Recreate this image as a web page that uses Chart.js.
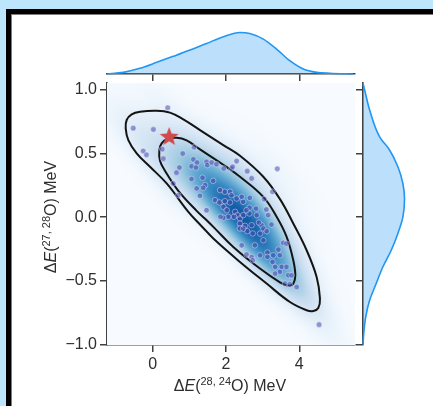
<!DOCTYPE html>
<html>
<head>
<meta charset="utf-8">
<script src="https://cdn.jsdelivr.net/npm/chart.js@4.4.1/dist/chart.umd.min.js"></script>
<style>
  html, body { margin: 0; padding: 0; width: 433px; height: 406px; overflow: hidden; background: #bde5fc; }
  .frame { position: absolute; left: 6px; top: 9px; width: 440px; height: 410px; border: 5px solid #000;
           background: #fff; box-shadow: inset 1px 1px 0 #7d7d7d; }
  canvas { position: absolute; }
  #main { left: 0; top: 0; }
  #topMarg { left: 100px; top: 18px; }
  #rightMarg { left: 356px; top: 76px; }
</style>
</head>
<body>
<div class="frame"></div>
<canvas id="main" width="433" height="406"></canvas>
<canvas id="topMarg" width="262" height="63"></canvas>
<canvas id="rightMarg" width="61" height="276"></canvas>
<script>
// axis limits and ticks
const xRange = [-1.246, 5.52];
const yRange = [-1.005, 1.055];
const xTicks = [0, 2, 4];
const xTickLabels = ['0', '2', '4'];
const yTicks = [-1, -0.5, 0, 0.5, 1];
const yTickLabels = ['\u22121.0', '\u22120.5', '0.0', '0.5', '1.0'];

// posterior samples: ΔE(28,24O) vs ΔE(27,28O)
const sampleX = [0.41, -0.53, 0.02, -0.26, -0.17, 0.26, 0.29, 0.82, 1.13, 1.11, 1.21, 1.06, 1.47, 1.49, 1.61, 1.74,
  0.73, 0.65, 1.06, 1.36, 0.56, 1.94, 2.15, 2.18, 2.29, 2.58, 2.70, 1.65, 1.43, 1.38, 1.20, 1.29, 0.70, 1.47, 1.70,
  1.82, 1.84, 1.97, 2.11, 2.15, 2.29, 2.43, 2.47, 2.65, 2.64, 1.97, 2.11, 1.93, 2.02, 2.25, 2.31, 2.38, 2.22, 2.06,
  1.93, 1.85, 2.47, 2.64, 2.82, 2.84, 2.38, 2.52, 2.58, 2.38, 2.73, 3.04, 3.15, 2.97, 3.02, 2.93, 3.11, 3.24, 2.43,
  2.79, 3.02, 2.93, 3.13, 3.29, 3.43, 3.56, 3.65, 3.47, 3.27, 3.34, 3.52, 3.65, 3.70, 3.79, 3.47, 3.34, 2.56, 2.70,
  2.90, 2.56, 2.70, 2.47, 3.13, 3.61, 3.74, 3.93, 4.54, 2.73, 3.40, 3.27, 3.10, 1.18];
const sampleY = [0.86, 0.70, 0.69, 0.52, 0.49, 0.535, 0.46, 0.50, 0.55, 0.455, 0.43, 0.40, 0.435, 0.41, 0.43, 0.417,
  0.39, 0.35, 0.30, 0.31, 0.265, 0.383, 0.383, 0.396, 0.441, 0.362, 0.305, 0.286, 0.252, 0.231, 0.226, 0.168, 0.173,
  0.055, 0.134, 0.116, 0.213, 0.200, 0.200, 0.173, 0.147, 0.160, 0.121, 0.152, 0.074, 0.126, 0.116, 0.081, 0.055,
  0.042, 0.016, -0.01, 0.003, 0.003, -0.005, 0.003, 0.016, 0.029, 0.068, 0.016, -0.05, -0.068, -0.11, -0.089, -0.128,
  0.142, 0.016, -0.063, -0.089, -0.129, -0.11, -0.058, -0.221, -0.221, -0.181, -0.30, -0.278, -0.30, -0.255, -0.202,
  -0.208, -0.30, -0.352, -0.391, -0.391, -0.391, -0.457, -0.457, -0.43, -0.444, -0.294, -0.313, -0.042, 0.055, -0.063,
  -0.09, -0.312, -0.522, -0.528, -0.549, -0.845, -0.339, 0.38, 0.20, 0.06, 0.39];

// experimental value (star)
const refX = [0.45];
const refY = [0.638];

// density contours (outer / inner level)
const outerX = [1.31, 1.655, 2.382, 3.109, 3.745, 4.2, 4.382, 4.518, 4.564, 4.473, 4.2, 3.836, 3.473, 3.018, 2.382,
  1.927, 1.291, 0.836, 0.473, 0.109, -0.345, -0.573, -0.709, -0.736, -0.664, -0.436, -0.073, 0.382, 0.973];
const outerY = [-0.063, -0.168, -0.352, -0.522, -0.667, -0.732, -0.738, -0.714, -0.640, -0.470, -0.260, -0.050, 0.142,
  0.318, 0.483, 0.567, 0.685, 0.769, 0.822, 0.837, 0.829, 0.808, 0.764, 0.698, 0.606, 0.501, 0.396, 0.265, 0.042];
const innerX = [1.43, 1.655, 2.2, 2.927, 3.473, 3.7, 3.836, 3.891, 3.836, 3.655, 3.382, 3.018, 2.382, 1.927, 1.291,
  0.927, 0.655, 0.382, 0.245, 0.182, 0.2, 0.336, 0.7, 1.2];
const innerY = [-0.013, -0.076, -0.234, -0.404, -0.512, -0.538, -0.522, -0.457, -0.339, -0.155, 0.003, 0.160, 0.318,
  0.412, 0.533, 0.604, 0.625, 0.614, 0.580, 0.528, 0.444, 0.365, 0.207, 0.050];

// marginal densities (relative to peak)
const margXGrid = [-1.25, -0.80, -0.35, 0.11, 0.56, 1.02, 1.47, 1.93, 2.38, 2.65, 3.02, 3.38, 3.74, 4.11, 4.47, 4.84, 5.47];
const margXDensity = [0, 0.04, 0.137, 0.28, 0.425, 0.577, 0.735, 0.897, 1.0, 0.976, 0.84, 0.60, 0.32, 0.12, 0.04, 0.017, 0];
const margYGrid = [-1.0, -0.916, -0.785, -0.654, -0.52, -0.39, -0.26, -0.128, 0.0, 0.147, 0.265, 0.396, 0.528, 0.632, 0.843, 1.0, 1.053];
const margYDensity = [0, 0.017, 0.065, 0.16, 0.32, 0.48, 0.68, 0.84, 0.96, 1.0, 0.96, 0.84, 0.64, 0.40, 0.16, 0.04, 0];

const xTitleParts = [{t: '\u0394'}, {t: 'E', it: true}, {t: '('}, {t: '28, 24', sup: true}, {t: 'O) MeV'}];
const yTitleParts = [{t: '\u0394'}, {t: 'E', it: true}, {t: '('}, {t: '27, 28', sup: true}, {t: 'O) MeV'}];

const FONT = '"Liberation Sans", Arial, sans-serif';
const AXIS = '#414141';
const TEXT = '#2e2e2e';
const BLUES = [[247,251,255],[222,235,247],[198,219,239],[158,202,225],[107,174,214],[66,146,198],[33,113,181],[8,81,156],[8,48,107]];
const BW_ADJUST = 1.35;

Chart.defaults.font.family = FONT;
Chart.defaults.color = TEXT;

function blues(t) {
  const p = Math.max(0, Math.min(1, t)) * 8;
  const i = Math.min(7, Math.floor(p)), f = p - i;
  const a = BLUES[i], b = BLUES[i + 1];
  return [a[0] + (b[0] - a[0]) * f, a[1] + (b[1] - a[1]) * f, a[2] + (b[2] - a[2]) * f];
}

// gaussian KDE of the samples (Scott bandwidth), painted under the datasets
function densityImage(area, xs, ys) {
  const w = Math.round(area.right - area.left), h = Math.round(area.bottom - area.top);
  const n = sampleX.length;
  let mx = 0, my = 0;
  for (let k = 0; k < n; k++) { mx += sampleX[k]; my += sampleY[k]; }
  mx /= n; my /= n;
  let sxx = 0, syy = 0, sxy = 0;
  for (let k = 0; k < n; k++) {
    const dx = sampleX[k] - mx, dy = sampleY[k] - my;
    sxx += dx * dx; syy += dy * dy; sxy += dx * dy;
  }
  const f2 = Math.pow(n, -1 / 3) * BW_ADJUST * BW_ADJUST / (n - 1);
  const kxx = sxx * f2, kyy = syy * f2, kxy = sxy * f2;
  const det = kxx * kyy - kxy * kxy;
  const a = kyy / det, b = -kxy / det, c = kxx / det;

  const dens = new Float64Array(w * h);
  let max = 0;
  for (let j = 0; j < h; j++) {
    const vy = ys.getValueForPixel(area.top + j + 0.5);
    for (let i = 0; i < w; i++) {
      const vx = xs.getValueForPixel(area.left + i + 0.5);
      let s = 0;
      for (let k = 0; k < n; k++) {
        const dx = vx - sampleX[k], dy = vy - sampleY[k];
        s += Math.exp(-0.5 * (a * dx * dx + 2 * b * dx * dy + c * dy * dy));
      }
      dens[j * w + i] = s;
      if (s > max) max = s;
    }
  }
  const cv = document.createElement('canvas');
  cv.width = w; cv.height = h;
  const g = cv.getContext('2d');
  const img = g.createImageData(w, h);
  for (let p = 0; p < w * h; p++) {
    const col = blues(0.84 * Math.pow(dens[p] / max, 0.9));
    img.data[p * 4] = col[0]; img.data[p * 4 + 1] = col[1]; img.data[p * 4 + 2] = col[2]; img.data[p * 4 + 3] = 255;
  }
  g.putImageData(img, 0, 0);
  return cv;
}

const kdeLayer = {
  id: 'kdeLayer',
  beforeDatasetsDraw(chart) {
    const {ctx, chartArea, scales} = chart;
    if (!chart.$kde) chart.$kde = densityImage(chartArea, scales.x, scales.y);
    ctx.drawImage(chart.$kde, Math.round(chartArea.left), Math.round(chartArea.top));
  }
};

// axis titles with italic E and superscript mass numbers
function drawRich(ctx, parts, cx, cy, angle) {
  const fontOf = p => p.sup ? '11px ' + FONT : (p.it ? 'italic 16px ' : '16px ') + FONT;
  let total = 0;
  const widths = parts.map(p => { ctx.font = fontOf(p); const wd = ctx.measureText(p.t).width; total += wd; return wd; });
  ctx.save();
  ctx.translate(cx, cy);
  ctx.rotate(angle);
  ctx.fillStyle = TEXT;
  ctx.textBaseline = 'alphabetic';
  ctx.textAlign = 'left';
  let x = -total / 2;
  parts.forEach((p, i) => {
    ctx.font = fontOf(p);
    ctx.fillText(p.t, x, p.sup ? 0 : 6);
    x += widths[i];
  });
  ctx.restore();
}

const mathTitles = {
  id: 'mathTitles',
  afterDraw(chart) {
    const a = chart.chartArea;
    drawRich(chart.ctx, xTitleParts, (a.left + a.right) / 2 - 1, a.bottom + 40, 0);
    drawRich(chart.ctx, yTitleParts, a.left - 57, (a.top + a.bottom) / 2 + 3, -Math.PI / 2);
  }
};

function starSprite(r, color) {
  const size = Math.ceil(r * 2) + 2;
  const c = document.createElement('canvas');
  c.width = c.height = size;
  const g = c.getContext('2d');
  g.translate(size / 2, size / 2 + 1);
  g.beginPath();
  for (let k = 0; k < 10; k++) {
    const rr = k % 2 ? r * 0.42 : r;
    const ang = -Math.PI / 2 + k * Math.PI / 5;
    g.lineTo(rr * Math.cos(ang), rr * Math.sin(ang));
  }
  g.closePath();
  g.fillStyle = color;
  g.fill();
  return c;
}

const toPoints = (xs, ys) => xs.map((v, i) => ({x: v, y: ys[i]}));
const closedLoop = (xs, ys) => { const pts = toPoints(xs, ys); return pts.concat([pts[0], pts[1]]); };

const tickGrid = {drawOnChartArea: false, drawTicks: true, tickLength: 7, color: AXIS, lineWidth: 1.5};
const spine = {display: true, color: AXIS, width: 1.6};
const baseOpts = {
  responsive: false,
  animation: false,
  events: [],
  plugins: {legend: {display: false}, tooltip: {enabled: false}}
};

new Chart(document.getElementById('main'), {
  type: 'scatter',
  data: {
    datasets: [
      {
        label: 'experiment',
        data: toPoints(refX, refY),
        pointStyle: starSprite(10, '#cf4a4c'),
        pointRadius: 10,
        order: 0
      },
      {
        label: 'samples',
        data: toPoints(sampleX, sampleY),
        pointRadius: 2.8,
        backgroundColor: 'rgba(72,72,176,0.55)',
        borderColor: 'rgba(255,255,255,0.65)',
        borderWidth: 0.6,
        order: 1
      },
      {
        label: 'outer level',
        data: closedLoop(outerX, outerY),
        showLine: true, pointRadius: 0, borderColor: '#141414', borderWidth: 2, tension: 0.4,
        order: 2
      },
      {
        label: 'inner level',
        data: closedLoop(innerX, innerY),
        showLine: true, pointRadius: 0, borderColor: '#141414', borderWidth: 2, tension: 0.4,
        order: 3
      }
    ]
  },
  options: {
    ...baseOpts,
    layout: {padding: {left: 0, top: 83, right: 78, bottom: 0}},
    scales: {
      x: {
        type: 'linear', min: xRange[0], max: xRange[1],
        afterFit(s) { s.height = 61; },
        afterBuildTicks(s) { s.ticks = xTicks.map(v => ({value: v})); },
        ticks: {callback: (v, i) => xTickLabels[i], padding: 3, color: TEXT, font: {size: 16}, maxRotation: 0, autoSkip: false},
        grid: tickGrid,
        border: spine
      },
      y: {
        type: 'linear', min: yRange[0], max: yRange[1],
        afterFit(s) { s.width = 107; },
        afterBuildTicks(s) { s.ticks = yTicks.map(v => ({value: v})); },
        ticks: {callback: (v, i) => yTickLabels[i], padding: 3, color: TEXT, font: {size: 16}, autoSkip: false},
        grid: tickGrid,
        border: spine
      }
    }
  },
  plugins: [kdeLayer, mathTitles]
});

// top marginal: density of ΔE(28,24O)
new Chart(document.getElementById('topMarg'), {
  type: 'scatter',
  data: {
    datasets: [{
      data: toPoints(margXGrid, margXDensity),
      showLine: true, pointRadius: 0, borderColor: '#2196f3', borderWidth: 1.6,
      backgroundColor: 'rgba(33,150,243,0.3)', fill: 'origin', cubicInterpolationMode: 'monotone', clip: 3
    }]
  },
  options: {
    ...baseOpts,
    layout: {padding: {left: 7, right: 7, top: 2, bottom: 0}},
    scales: {
      x: {
        type: 'linear', min: xRange[0], max: xRange[1],
        afterFit(s) { s.height = 7; },
        afterBuildTicks(s) { s.ticks = xTicks.map(v => ({value: v})); },
        ticks: {display: false},
        grid: tickGrid,
        border: spine
      },
      y: {display: false, min: 0, max: 1.3}
    }
  }
});

// right marginal: density of ΔE(27,28O)
new Chart(document.getElementById('rightMarg'), {
  type: 'line',
  data: {
    datasets: [{
      data: toPoints(margYDensity, margYGrid),
      pointRadius: 0, borderColor: '#2196f3', borderWidth: 1.6,
      backgroundColor: 'rgba(33,150,243,0.3)', fill: 'origin', cubicInterpolationMode: 'monotone', clip: 3
    }]
  },
  options: {
    ...baseOpts,
    indexAxis: 'y',
    layout: {padding: {left: 0, right: 0, top: 7, bottom: 7}},
    scales: {
      x: {type: 'linear', display: false, min: 0, max: 1.3},
      y: {
        type: 'linear', position: 'left', min: yRange[0], max: yRange[1],
        afterFit(s) { s.width = 7; },
        afterBuildTicks(s) { s.ticks = yTicks.map(v => ({value: v})); },
        ticks: {display: false},
        grid: tickGrid,
        border: spine
      }
    }
  }
});
</script>
</body>
</html>
